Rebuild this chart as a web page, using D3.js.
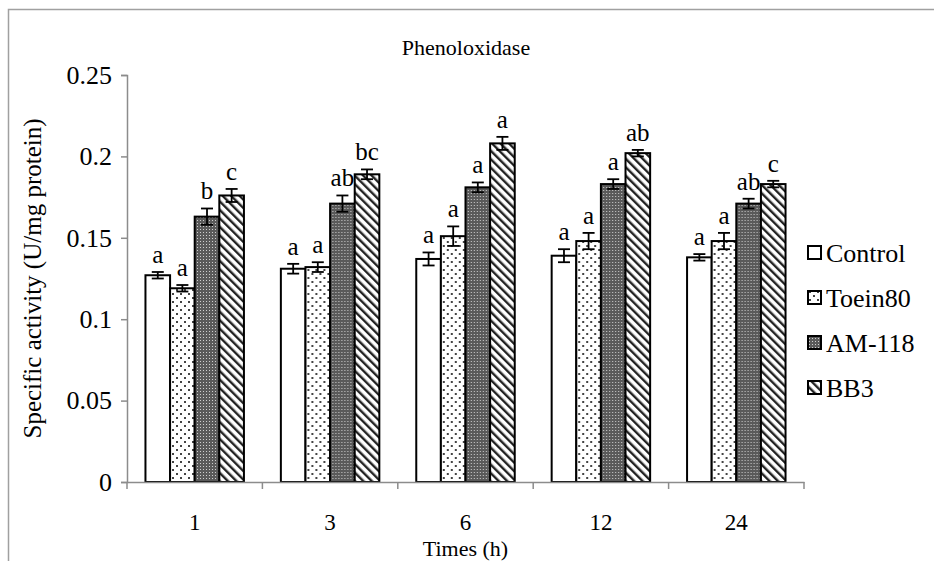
<!DOCTYPE html>
<html>
<head>
<meta charset="utf-8">
<script src="https://cdn.jsdelivr.net/npm/d3@7"></script>
<style>
  body { margin: 0; background: #fff; }
  svg, svg text { font-family: "Liberation Serif", "DejaVu Serif", serif !important; }
</style>
</head>
<body>
<div id="chart-area"></div>
<script>
// DATA
var times = ["1", "3", "6", "12", "24"];
var series = ["Control", "Toein80", "AM-118", "BB3"];
var control = [0.127, 0.131, 0.137, 0.139, 0.138];
var toein80 = [0.119, 0.132, 0.151, 0.148, 0.148];
var am118 = [0.163, 0.171, 0.181, 0.183, 0.171];
var bb3 = [0.176, 0.189, 0.208, 0.202, 0.183];
var errControl = [0.002, 0.003, 0.004, 0.004, 0.002];
var errToein80 = [0.002, 0.003, 0.006, 0.005, 0.005];
var errAm118 = [0.005, 0.005, 0.003, 0.003, 0.003];
var errBb3 = [0.004, 0.003, 0.004, 0.002, 0.002];
var letControl = ["a", "a", "a", "a", "a"];
var letToein80 = ["a", "a", "a", "a", "a"];
var letAm118 = ["b", "ab", "a", "a", "ab"];
var letBb3 = ["c", "bc", "a", "ab", "c"];
var yTicks = [0, 0.05, 0.1, 0.15, 0.2, 0.25];

var values = [control, toein80, am118, bb3];
var errors = [errControl, errToein80, errAm118, errBb3];
var letters = [letControl, letToein80, letAm118, letBb3];

var width = 934, height = 561;
var plot = { left: 127, right: 804, top: 75, bottom: 482 };
var FONT = "'Liberation Serif', 'DejaVu Serif', serif";

var svg = d3.select("#chart-area")
    .append("svg")
    .attr("width", width)
    .attr("height", height)
    .attr("font-family", FONT);

// PATTERNS
var defs = svg.append("defs");

var dots = defs.append("pattern")
    .attr("id", "p-dots")
    .attr("patternUnits", "userSpaceOnUse")
    .attr("width", 8).attr("height", 8);
dots.append("rect").attr("width", 8).attr("height", 8).attr("fill", "#fff");
dots.append("rect").attr("x", 1).attr("y", 1).attr("width", 2).attr("height", 2).attr("fill", "#444");
dots.append("rect").attr("x", 5).attr("y", 5).attr("width", 2).attr("height", 2).attr("fill", "#444");

var grid = defs.append("pattern")
    .attr("id", "p-grid")
    .attr("patternUnits", "userSpaceOnUse")
    .attr("width", 3).attr("height", 3);
grid.append("rect").attr("width", 3).attr("height", 3).attr("fill", "#5a5a5a");
grid.append("rect").attr("x", 1).attr("y", 1).attr("width", 1).attr("height", 1).attr("fill", "#cfcfcf");

var hatch = defs.append("pattern")
    .attr("id", "p-hatch")
    .attr("patternUnits", "userSpaceOnUse")
    .attr("width", 6).attr("height", 6)
    .attr("patternTransform", "rotate(-45)");
hatch.append("rect").attr("width", 6).attr("height", 6).attr("fill", "#fff");
hatch.append("rect").attr("x", 0).attr("width", 2.4).attr("height", 6).attr("fill", "#222");

var fills = ["#fff", "url(#p-dots)", "url(#p-grid)", "url(#p-hatch)"];

// CHART BORDER
svg.append("rect")
    .attr("x", 8.5).attr("y", 9.5)
    .attr("width", 1000).attr("height", 1000)
    .attr("fill", "none")
    .attr("stroke", "#a0a0a0")
    .attr("stroke-width", 1.5);

// SCALES
var x0 = d3.scaleBand()
    .domain(times)
    .range([plot.left, plot.right])
    .padding(0);

var gw = x0.bandwidth();
var bw = gw / 5.5;
var x1 = d3.scaleBand()
    .domain(series)
    .range([bw * 0.75, gw - bw * 0.75])
    .padding(0);

var y = d3.scaleLinear()
    .domain([0, 0.25])
    .range([plot.bottom, plot.top]);

// Y AXIS
var yAxis = svg.append("g")
    .attr("transform", "translate(" + plot.left + ",0)")
    .call(d3.axisLeft(y).tickValues(yTicks).tickSizeOuter(0).tickSize(6).tickPadding(9)
        .tickFormat(function (d) { return d3.format("")(+d.toFixed(2)); }));
yAxis.attr("font-family", FONT);
yAxis.select(".domain").attr("stroke", "#8c8c8c").attr("stroke-width", 1.5);
yAxis.selectAll(".tick line").attr("stroke", "#8c8c8c").attr("stroke-width", 1.5);
yAxis.selectAll(".tick text")
    .attr("font-size", "26px")
    .attr("fill", "#000");

// BARS
var groups = svg.selectAll("g.grp")
    .data(times)
    .enter()
    .append("g")
    .attr("class", "grp")
    .attr("transform", function (d) { return "translate(" + x0(d) + ",0)"; });

series.forEach(function (s, si) {
    groups.append("rect")
        .attr("x", function (d, i) { return x1(s); })
        .attr("y", function (d, i) { return y(values[si][i]); })
        .attr("width", x1.bandwidth())
        .attr("height", function (d, i) { return y(0) - y(values[si][i]); })
        .attr("fill", fills[si])
        .attr("stroke", "#000")
        .attr("stroke-width", 2);

    var cx = x1(s) + x1.bandwidth() / 2;
    // ERROR BARS
    groups.append("line")
        .attr("x1", cx).attr("x2", cx)
        .attr("y1", function (d, i) { return y(values[si][i] + errors[si][i]); })
        .attr("y2", function (d, i) { return y(values[si][i] - errors[si][i]); })
        .attr("stroke", "#000").attr("stroke-width", 1.8);
    [1, -1].forEach(function (sign) {
        groups.append("line")
            .attr("x1", cx - 6).attr("x2", cx + 6)
            .attr("y1", function (d, i) { return y(values[si][i] + sign * errors[si][i]); })
            .attr("y2", function (d, i) { return y(values[si][i] + sign * errors[si][i]); })
            .attr("stroke", "#000").attr("stroke-width", 1.8);
    });
    // LETTERS
    groups.append("text")
        .attr("x", cx)
        .attr("y", function (d, i) { return y(values[si][i] + errors[si][i]) - 9; })
        .attr("text-anchor", "middle")
        .attr("font-size", "25px")
        .text(function (d, i) { return letters[si][i]; });
});

// X AXIS
var xAxis = svg.append("g")
    .attr("transform", "translate(0," + plot.bottom + ")")
    .call(d3.axisBottom(x0).tickSize(0).tickPadding(0).tickSizeOuter(0));
xAxis.attr("font-family", FONT);
xAxis.select(".domain").attr("stroke", "#8c8c8c").attr("stroke-width", 1.5);
xAxis.selectAll(".tick text")
    .attr("font-size", "23px")
    .attr("fill", "#000")
    .attr("y", 48)
    .attr("dy", 0);
xAxis.selectAll("line.sep")
    .data(times.concat(["end"]))
    .enter()
    .append("line")
    .attr("class", "sep")
    .attr("x1", function (d, i) { return plot.left + i * gw; })
    .attr("x2", function (d, i) { return plot.left + i * gw; })
    .attr("y1", 0).attr("y2", 7)
    .attr("stroke", "#8c8c8c").attr("stroke-width", 1.5);

// TITLES
svg.append("text")
    .attr("x", 466).attr("y", 55)
    .attr("text-anchor", "middle")
    .attr("font-size", "22px")
    .text("Phenoloxidase");

svg.append("text")
    .attr("x", (plot.left + plot.right) / 2).attr("y", 556)
    .attr("text-anchor", "middle")
    .attr("font-size", "22px")
    .text("Times (h)");

svg.append("text")
    .attr("transform", "translate(41," + (plot.top + plot.bottom) / 2 + ") rotate(-90)")
    .attr("text-anchor", "middle")
    .attr("font-size", "25px")
    .text("Specific activity (U/mg protein)");

// LEGEND
var legend = svg.selectAll("g.leg")
    .data(series)
    .enter()
    .append("g")
    .attr("class", "leg")
    .attr("transform", function (d, i) { return "translate(808," + (253 + i * 45) + ")"; });
legend.append("rect")
    .attr("x", 0).attr("y", -7)
    .attr("width", 13).attr("height", 13)
    .attr("fill", function (d, i) { return fills[i]; })
    .attr("stroke", "#000").attr("stroke-width", 2);
legend.append("text")
    .attr("x", 18).attr("y", 0)
    .attr("dy", "0.35em")
    .attr("font-size", "26px")
    .text(function (d) { return d; });
</script>
</body>
</html>
